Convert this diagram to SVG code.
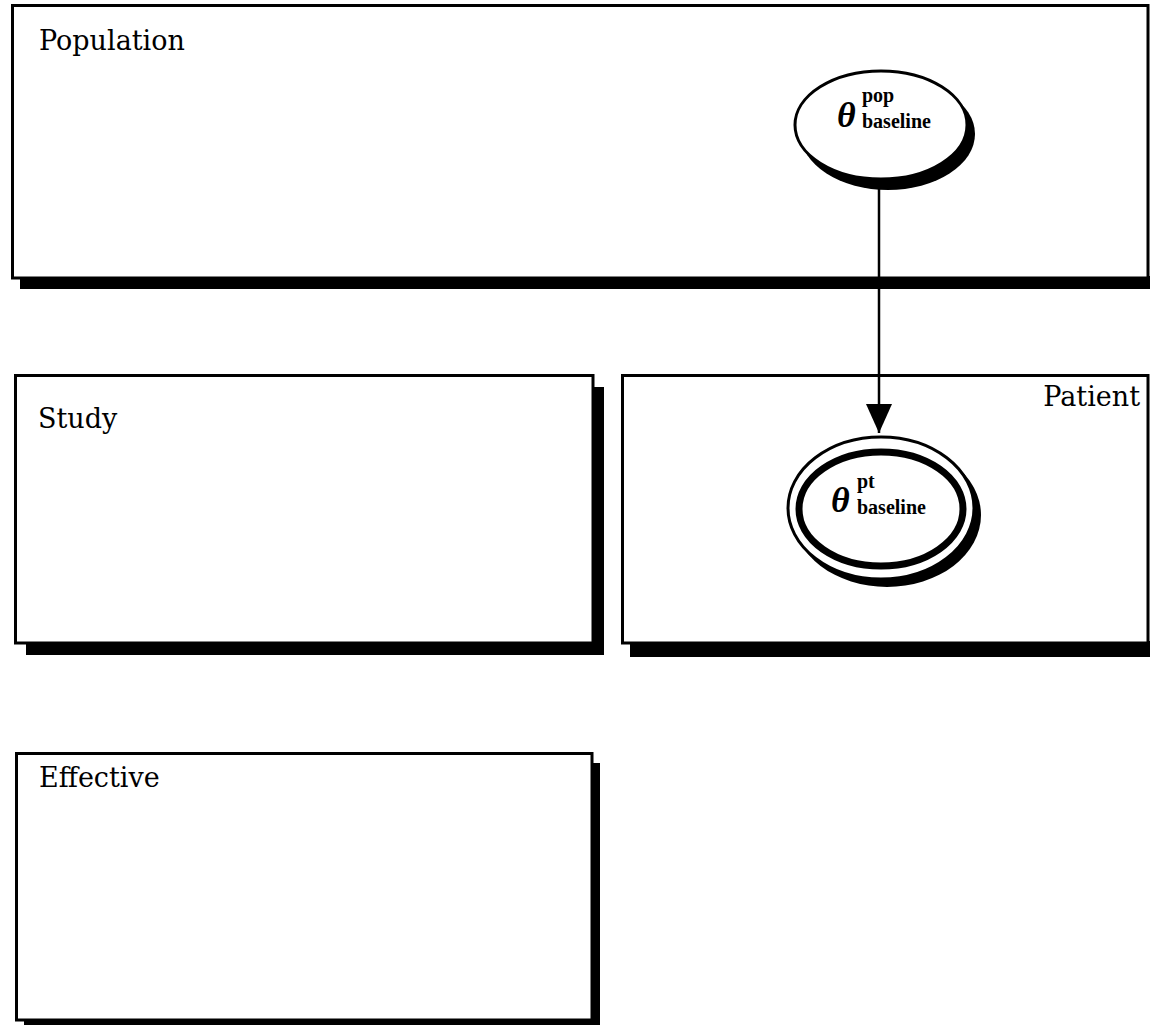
<svg xmlns="http://www.w3.org/2000/svg" width="1152" height="1025" viewBox="0 0 1152 1025">
  <style>
    .frame { fill: #fff; stroke: #000; stroke-width: 3; }
    .shadow { fill: #000; }
    .label { font-family: "DejaVu Serif", "Liberation Serif", serif; font-size: 27px; fill: #000; }
    .sym { font-family: "Liberation Serif", "DejaVu Serif", serif; font-style: italic; font-weight: bold; font-size: 36px; fill: #000; }
    .idx { font-family: "Liberation Serif", "DejaVu Serif", serif; font-weight: bold; font-size: 20px; fill: #000; }
    .node { fill: #fff; stroke: #000; stroke-width: 3; }
    .edge { stroke: #000; stroke-width: 2.5; fill: none; }
  </style>
  <defs>
    <marker id="arrow" viewBox="0 0 29 26" refX="29" refY="13" markerWidth="29" markerHeight="26" markerUnits="userSpaceOnUse" orient="auto">
      <path d="M0,0 L29,13 L0,26 Z" fill="#000"/>
    </marker>
  </defs>
  <rect width="1152" height="1025" fill="#fff"/>

  <!-- plates -->
  <g id="plate-population">
    <rect class="shadow" x="20" y="276" width="1130" height="13"/>
    <rect class="frame" x="12.5" y="5.5" width="1135.5" height="272.5"/>
    <text class="label" x="39" y="50">Population</text>
  </g>
  <g id="plate-study">
    <rect class="shadow" x="26" y="387" width="578" height="268"/>
    <rect class="frame" x="15.5" y="375.5" width="577.5" height="267.5"/>
    <text class="label" x="38" y="428">Study</text>
  </g>
  <g id="plate-patient">
    <rect class="shadow" x="630" y="641" width="520" height="16"/>
    <rect class="frame" x="622.5" y="375.5" width="525.5" height="267.5"/>
    <text class="label" x="1140" y="406" text-anchor="end">Patient</text>
  </g>
  <g id="plate-effective">
    <rect class="shadow" x="24" y="763" width="576" height="268"/>
    <rect class="frame" x="16.5" y="753.5" width="575.5" height="266.5"/>
    <text class="label" x="39" y="787">Effective</text>
  </g>

  <!-- connectors -->
  <g id="edges">
    <line class="edge" x1="879" y1="186" x2="879" y2="433" marker-end="url(#arrow)"/>
  </g>

  <!-- nodes -->
  <g id="node-theta-pop">
    <ellipse class="shadow" cx="888" cy="134" rx="87" ry="56"/>
    <ellipse class="node" cx="881" cy="125" rx="86" ry="54"/>
    <text class="sym" x="837" y="127">θ</text>
    <text class="idx" x="862" y="102">pop</text>
    <text class="idx" x="862" y="128">baseline</text>
  </g>
  <g id="node-theta-pt">
    <ellipse class="shadow" cx="887" cy="515" rx="94" ry="72"/>
    <ellipse class="node" cx="881" cy="508" rx="93" ry="71"/>
    <ellipse fill="none" stroke="#000" stroke-width="7" cx="881" cy="509" rx="82" ry="57"/>
    <text class="sym" x="831" y="512">θ</text>
    <text class="idx" x="857" y="488">pt</text>
    <text class="idx" x="857" y="514">baseline</text>
  </g>
</svg>
